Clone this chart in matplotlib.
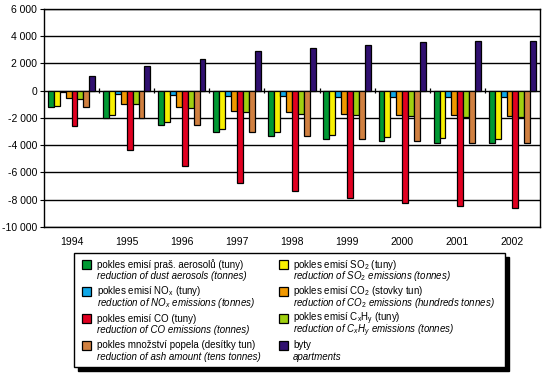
import numpy as np
import matplotlib
matplotlib.use('Agg')
import matplotlib.pyplot as plt
from matplotlib.patches import Rectangle

plt.rcParams['font.family'] = ['Liberation Sans', 'DejaVu Sans']
plt.rcParams['mathtext.fontset'] = 'custom'
plt.rcParams['mathtext.rm'] = 'Liberation Sans'
plt.rcParams['mathtext.it'] = 'Liberation Sans:italic'

years = ['1994', '1995', '1996', '1997', '1998', '1999', '2000', '2001', '2002']

# hodnoty, pořadí sloupců ve skupině
dust = [-1175, -1980, -2495, -3010, -3300, -3520, -3670, -3815, -3815]
so2 = [-1100, -1760, -2275, -2790, -3010, -3230, -3375, -3450, -3520]
nox = [-120, -220, -295, -370, -370, -440, -440, -440, -440]
co2 = [-515, -955, -1175, -1470, -1540, -1690, -1760, -1760, -1835]
co = [-2590, -4330, -5500, -6750, -7340, -7850, -8220, -8440, -8585]
cxhy = [-590, -955, -1250, -1540, -1690, -1760, -1835, -1910, -1910]
ash = [-1175, -1980, -2495, -3010, -3300, -3520, -3670, -3815, -3815]
flats = [1100, 1835, 2350, 2935, 3155, 3375, 3595, 3670, 3670]

series = [dust, so2, nox, co2, co, cxhy, ash, flats]
colors = ['#009933', '#F8F000', '#10A8E8', '#F09800', '#E00020', '#A0D010', '#D08040', '#301070']

# legenda: (barva, řádek cz, řádek en)
legend_items = [
    ('#009933', 'pokles emisí praš. aerosolů (tuny)', 'reduction of dust aerosols (tonnes)'),
    ('#F8F000', 'pokles emisí SO$_2$ (tuny)', 'reduction of SO$_2$ emissions (tonnes)'),
    ('#10A8E8', 'pokles emisí NO$_\\mathrm{x}$ (tuny)', 'reduction of NO$_x$ emissions (tonnes)'),
    ('#F09800', 'pokles emisí CO$_2$ (stovky tun)', 'reduction of CO$_2$ emissions (hundreds tonnes)'),
    ('#E00020', 'pokles emisí CO (tuny)', 'reduction of CO emissions (tonnes)'),
    ('#A0D010', 'pokles emisí C$_\\mathrm{x}$H$_\\mathrm{y}$ (tuny)', 'reduction of C$_x$H$_y$ emissions (tonnes)'),
    ('#D08040', 'pokles množství popela (desítky tun)', 'reduction of ash amount (tens tonnes)'),
    ('#301070', 'byty', 'apartments'),
]

W, H = 548, 375
fig = plt.figure(figsize=(W / 100, H / 100), dpi=100)
ax = fig.add_axes([44 / W, 1 - 227 / H, 496 / W, 218 / H])

x = np.arange(len(years))
n = len(series)
bw = 0.1075
for i, (vals, c) in enumerate(zip(series, colors)):
    offs = (i - (n - 1) / 2) * bw
    ax.bar(x + offs, vals, bw, color=c, edgecolor='black', linewidth=0.9, zorder=3)

ax.set_xlim(-0.5, len(years) - 0.5)
ax.set_ylim(-10000, 6000)
yt = np.arange(-10000, 6001, 2000)
ax.set_yticks(yt)
ax.set_yticklabels(['{:,}'.format(v).replace(',', ' ') for v in yt], fontsize=7.5)
ax.yaxis.grid(True, color='black', linewidth=1, zorder=0)
ax.set_xticks(x)
ax.set_xticklabels(years, fontsize=7.5)
ax.tick_params(axis='x', length=0, pad=7)
ax.tick_params(axis='y', length=3, width=0.8, pad=2)
for s in ax.spines.values():
    s.set_linewidth(1)
# značky hranic kategorií na nulové ose
ax.vlines(x[:-1] + 0.5, -200, 200, color='black', linewidth=0.9, zorder=4)

# legenda kreslená ručně
lx0, lx1, ly0, ly1 = 74, 505, 253, 367
sh = 4
fig.patches.append(Rectangle(((lx0 + sh) / W, 1 - (ly1 + sh) / H), (lx1 - lx0) / W, (ly1 - ly0) / H,
                             transform=fig.transFigure, facecolor='black', edgecolor='black', zorder=1))
fig.patches.append(Rectangle((lx0 / W, 1 - ly1 / H), (lx1 - lx0) / W, (ly1 - ly0) / H,
                             transform=fig.transFigure, facecolor='white', edgecolor='black',
                             linewidth=1, zorder=2))

col_sq = [82, 279]
col_tx = [97, 293]
row_y = [264, 291, 318, 345]
for k, (c, cz, en) in enumerate(legend_items):
    col = k % 2
    row = k // 2
    ys = row_y[row]
    fig.patches.append(Rectangle((col_sq[col] / W, 1 - (ys + 4.5) / H), 9 / W, 9 / H,
                                 transform=fig.transFigure, facecolor=c, edgecolor='black',
                                 linewidth=0.9, zorder=3))
    fig.text(col_tx[col] / W, 1 - (ys + 3.5) / H, cz, fontsize=7, va='baseline', ha='left')
    fig.text(col_tx[col] / W, 1 - (ys + 15) / H, en, fontsize=7, va='baseline', ha='left',
             fontstyle='italic')

fig.savefig('out.png', dpi=100)
